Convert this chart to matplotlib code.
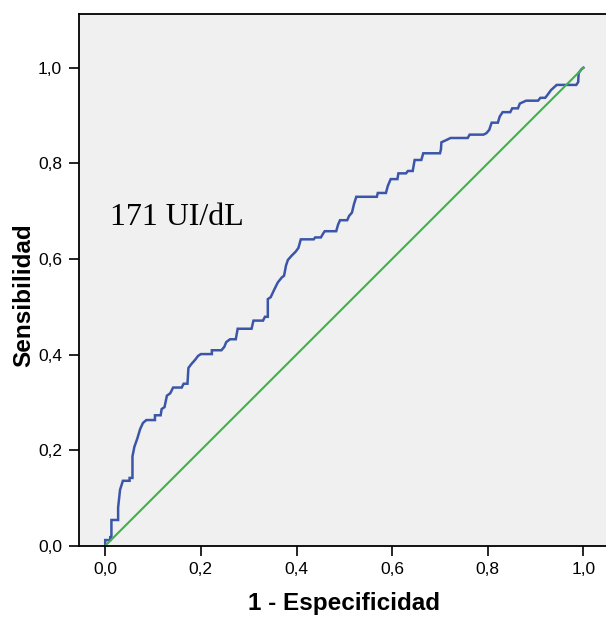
import matplotlib
matplotlib.use("Agg")
import matplotlib.pyplot as plt
from matplotlib.ticker import FuncFormatter

# ROC curve vertices (1 - especificidad, sensibilidad)
fpr = [0.0, 0.0, 0.0105, 0.0105, 0.013, 0.013, 0.027, 0.027, 0.031, 0.037,
       0.051, 0.051, 0.057, 0.057, 0.061, 0.067, 0.073, 0.079, 0.086, 0.104,
       0.104, 0.116, 0.118, 0.124, 0.129, 0.136, 0.142, 0.160, 0.164, 0.172,
       0.174, 0.180, 0.188, 0.194, 0.200, 0.223, 0.223, 0.243, 0.249, 0.253,
       0.261, 0.273, 0.277, 0.306, 0.310, 0.330, 0.334, 0.340, 0.340, 0.346,
       0.354, 0.361, 0.369, 0.374, 0.378, 0.382, 0.390, 0.398, 0.404, 0.409,
       0.436, 0.439, 0.451, 0.455, 0.459, 0.483, 0.487, 0.491, 0.506, 0.510,
       0.516, 0.520, 0.525, 0.568, 0.570, 0.587, 0.591, 0.597, 0.611, 0.613,
       0.629, 0.633, 0.643, 0.647, 0.661, 0.665, 0.700, 0.702, 0.703, 0.714,
       0.722, 0.758, 0.762, 0.791, 0.797, 0.803, 0.808, 0.821, 0.825, 0.831,
       0.847, 0.851, 0.863, 0.867, 0.880, 0.905, 0.910, 0.920, 0.924, 0.932,
       0.944, 0.985, 0.989, 0.990, 0.996, 1.0]
tpr = [0.0, 0.012, 0.012, 0.018, 0.018, 0.054, 0.054, 0.080, 0.117, 0.136,
       0.136, 0.142, 0.142, 0.187, 0.207, 0.224, 0.244, 0.257, 0.263, 0.263,
       0.273, 0.273, 0.286, 0.290, 0.314, 0.319, 0.331, 0.331, 0.339, 0.339,
       0.372, 0.380, 0.389, 0.397, 0.401, 0.401, 0.409, 0.409, 0.416, 0.426,
       0.432, 0.432, 0.454, 0.454, 0.471, 0.471, 0.479, 0.479, 0.516, 0.520,
       0.537, 0.551, 0.561, 0.565, 0.586, 0.598, 0.607, 0.615, 0.623, 0.641,
       0.641, 0.645, 0.645, 0.652, 0.658, 0.658, 0.672, 0.681, 0.681, 0.690,
       0.697, 0.714, 0.730, 0.730, 0.738, 0.738, 0.753, 0.767, 0.767, 0.779,
       0.779, 0.784, 0.784, 0.807, 0.807, 0.821, 0.821, 0.829, 0.844, 0.849,
       0.853, 0.853, 0.860, 0.860, 0.863, 0.870, 0.885, 0.885, 0.898, 0.907,
       0.907, 0.915, 0.915, 0.925, 0.931, 0.931, 0.937, 0.937, 0.942, 0.953,
       0.964, 0.964, 0.970, 0.989, 0.997, 1.0]

# reference line
ref_x = [0.0, 1.0]
ref_y = [0.0, 1.0]

ticks = [0.0, 0.2, 0.4, 0.6, 0.8, 1.0]
annotation = "171 UI/dL"

plt.rcParams['font.family'] = ['Liberation Sans', 'DejaVu Sans']

fig = plt.figure(figsize=(6.06, 6.17), dpi=100)
ax = fig.add_axes([0.1302, 0.1154, 0.876, 0.8622])
ax.set_facecolor('#f0f0f0')

ax.plot(fpr, tpr, color='#3b56a8', linewidth=1.8, solid_joinstyle='miter')
ax.plot(ref_x, ref_y, color='#3cb44a', linewidth=1.5)

ax.set_xlim(-0.055, 1.055)
ax.set_ylim(0.0, 1.1127)
ax.set_xticks(ticks)
ax.set_yticks(ticks)
comma = FuncFormatter(lambda v, pos: f"{v:.1f}".replace('.', ','))
ax.xaxis.set_major_formatter(comma)
ax.yaxis.set_major_formatter(comma)
ax.tick_params(direction='out', length=7, width=1.2, labelsize=12.5,
               pad=5, color='black', labelcolor='black')

for side in ('left', 'top', 'bottom'):
    ax.spines[side].set_linewidth(1.3)
    ax.spines[side].set_color('black')
ax.spines['right'].set_visible(False)

ax.set_xlabel('1 - Especificidad', fontsize=17.5, fontweight='bold')
ax.set_ylabel('Sensibilidad', fontsize=17.5, fontweight='bold')
ax.xaxis.set_label_coords(0.5, -0.087)
ax.yaxis.set_label_coords(-0.082, 0.471)

ax.text(0.01, 0.671, annotation, fontsize=23, family='Liberation Serif',
        va='baseline', ha='left')

fig.savefig('out.png', dpi=100)
